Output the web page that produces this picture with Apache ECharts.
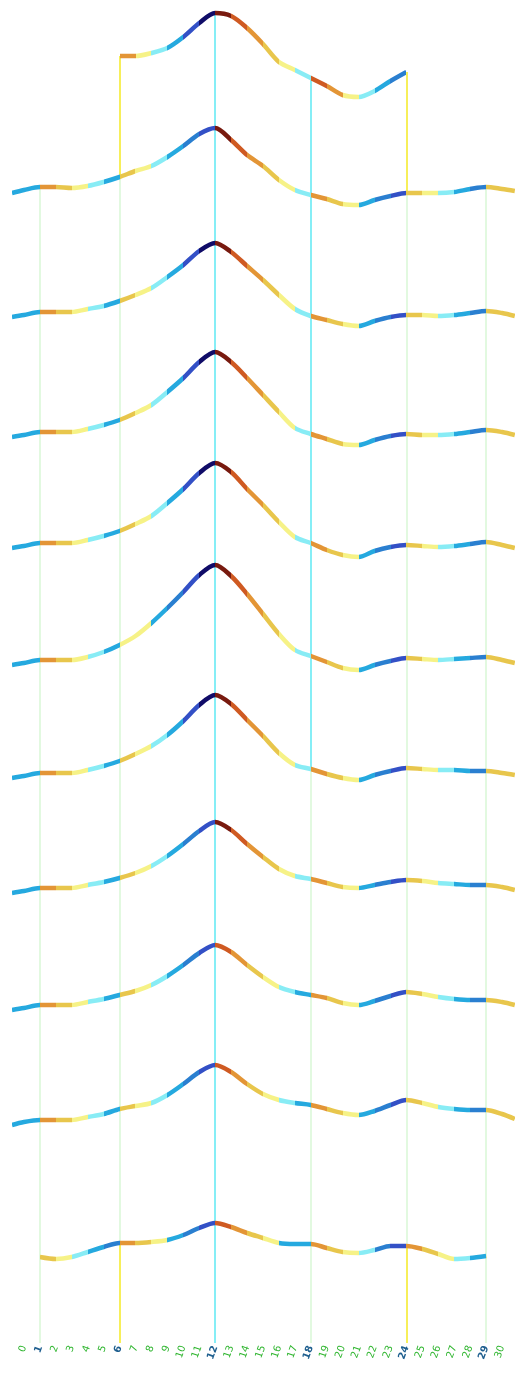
<!DOCTYPE html>
<html>
<head>
<meta charset="utf-8">
<script src="https://cdn.jsdelivr.net/npm/echarts@6/dist/echarts.min.js"></script>
<style>
  html, body { margin: 0; padding: 0; background: #ffffff; }
  #chart { width: 519px; height: 1378px; }
</style>
</head>
<body>
<div id="chart"></div>
<script>
// Sample positions along the x axis (tick units)
const SAMPLE_X = [-0.75, 0, 1, 2, 3, 4, 5, 6, 7, 8, 9, 10, 11, 12, 13, 14, 15,
  16, 17, 18, 19, 20, 21, 22, 23, 24, 25, 26, 27, 28, 29, 30, 30.8];

// Tick labels, one per integer tick 0..30
const TICK_LABELS = ['0', '1', '2', '3', '4', '5', '6', '7', '8', '9', '10',
  '11', '12', '13', '14', '15', '16', '17', '18', '19', '20',
  '21', '22', '23', '24', '25', '26', '27', '28', '29', '30'];

// Vertical offset of each trace (top trace first)
const ROW_BASE = [1280, 1152, 1028, 908, 797, 680, 567, 452, 335, 220, 83];

// Signal of each trace relative to its offset, one value per sample position
const ROW_0 = [null, null, null, null, null, null, null, 4, 4, 7, 12, 23, 37, 47, 44, 32, 16, -2, -10, -18, -26, -35, -37, -31, -21, -12, null, null, null, null, null, null, null];
const ROW_1 = [-5, -2, 1, 1, 0, 2, 6, 11, 17, 22, 31, 42, 54, 60, 48, 33, 22, 8, -2, -7, -11, -16, -17, -12, -8, -5, -5, -5, -4, -1, 1, -1, -3];
const ROW_2 = [-5, -3, 0, 0, 0, 3, 6, 11, 17, 24, 35, 47, 61, 69, 60, 46, 32, 17, 3, -4, -8, -12, -14, -9, -5, -3, -3, -4, -3, -1, 1, -1, -4];
const ROW_3 = [-5, -3, 0, 0, 0, 3, 7, 12, 19, 27, 40, 54, 70, 80, 70, 54, 37, 20, 4, -2, -7, -12, -13, -8, -4, -2, -3, -3, -2, 0, 2, 0, -3];
const ROW_4 = [-5, -3, 0, 0, 0, 3, 7, 12, 19, 27, 40, 54, 70, 80, 71, 54, 38, 21, 6, 0, -7, -12, -14, -8, -4, -2, -3, -4, -3, -1, 1, -2, -5];
const ROW_5 = [-5, -3, 0, 0, 0, 3, 8, 15, 24, 37, 52, 68, 85, 95, 84, 66, 46, 26, 10, 4, -2, -8, -10, -5, -1, 2, 1, 0, 1, 2, 3, 0, -3];
const ROW_6 = [-5, -3, 0, 0, 0, 3, 7, 12, 19, 27, 38, 52, 68, 78, 69, 53, 37, 20, 8, 4, -1, -5, -7, -2, 2, 5, 4, 3, 3, 2, 2, 0, -2];
const ROW_7 = [-5, -3, 0, 0, 0, 3, 6, 10, 15, 22, 32, 44, 57, 66, 58, 44, 31, 19, 12, 9, 5, 1, 0, 3, 6, 8, 7, 5, 4, 3, 3, 1, -2];
const ROW_8 = [-5, -3, 0, 0, 0, 3, 6, 10, 14, 20, 29, 40, 52, 60, 53, 40, 28, 18, 13, 10, 7, 2, 0, 4, 9, 13, 11, 8, 6, 5, 5, 3, 0];
const ROW_9 = [-5, -2, 0, 0, 0, 3, 6, 11, 14, 17, 25, 36, 48, 55, 48, 36, 26, 20, 17, 15, 11, 7, 5, 9, 15, 20, 17, 13, 11, 10, 10, 6, 1];
const ROW_10 = [null, null, 0, -2, 0, 5, 10, 14, 14, 15, 17, 22, 29, 34, 30, 24, 19, 14, 13, 13, 9, 5, 4, 7, 11, 11, 8, 3, -2, -1, 1, null, null];
const ROWS = [ROW_0, ROW_1, ROW_2, ROW_3, ROW_4, ROW_5, ROW_6, ROW_7, ROW_8, ROW_9, ROW_10];

// Colour level of each segment between neighbouring samples ('-' = no segment)
const LEVELS_0 = '-------754310987654875432-------';
const LEVELS_1 = '33765436543219876547653216543266';
const LEVELS_2 = '33765436543109876547653216543266';
const LEVELS_3 = '33765436543109876547653216543266';
const LEVELS_4 = '33765436543109876547653216543266';
const LEVELS_5 = '33765435532109876547653216543266';
const LEVELS_6 = '33765436543109876547653216543266';
const LEVELS_7 = '33765436543219876547653216543266';
const LEVELS_8 = '33765436543218765437653216543266';
const LEVELS_9 = '33765436543218765437653216543266';
const LEVELS_10 = '--65432765321876533765421765437--';
const LEVELS = [LEVELS_0, LEVELS_1, LEVELS_2, LEVELS_3, LEVELS_4, LEVELS_5,
  LEVELS_6, LEVELS_7, LEVELS_8, LEVELS_9, LEVELS_10];

// Colour ramp, low (navy) to high (dark red)
const RAMP = ['#100c68', '#3350c6', '#2a7fd0', '#25a9df', '#88ecf5',
  '#f6f287', '#e8c64c', '#e39536', '#cf5a22', '#781a0f'];

// Drop lines: tick, from trace, to trace (11 = the axis floor), colour
const DROP_TICK = [1, 6, 6, 6, 12, 18, 18, 24, 24, 24, 29];
const DROP_FROM = [1, 0, 1, 10, 0, 0, 6, 0, 1, 10, 1];
const DROP_TO = [11, 1, 10, 11, 11, 6, 11, 1, 10, 11, 11];
const DROP_COLOR = ['#d9f7d6', '#f7ef5a', '#d9f7d6', '#f7ef5a', '#86eef6',
  '#86eef6', '#d9f7d6', '#f7ef5a', '#d9f7d6', '#f7ef5a', '#d9f7d6'];

// Ticks whose labels are emphasised
const KEY_TICKS = [1, 6, 12, 18, 24, 29];

// Vertical extent of the plot
const Y_MIN = -3;
const Y_MAX = 1340;

function valueAt(row, tick) {
  const idx = SAMPLE_X.indexOf(tick);
  return ROW_BASE[row] + ROWS[row][idx];
}

const series = [];
const visualMaps = [];

ROWS.forEach((vals, r) => {
  const pts = [];
  vals.forEach((v, i) => {
    if (v !== null) pts.push([SAMPLE_X[i], ROW_BASE[r] + v]);
  });
  const pieces = [];
  for (let s = 0; s < SAMPLE_X.length - 1; s++) {
    const code = LEVELS[r][s];
    if (code === '-' || code === undefined) continue;
    pieces.push({ gte: SAMPLE_X[s], lt: SAMPLE_X[s + 1], color: RAMP[+code] });
  }
  series.push({
    type: 'line',
    data: pts,
    smooth: 0.3,
    showSymbol: false,
    z: 5,
    lineStyle: { width: 4.5, cap: 'butt' },
    animation: false
  });
  visualMaps.push({
    show: false,
    type: 'piecewise',
    seriesIndex: r,
    dimension: 0,
    pieces: pieces
  });
});

const dropData = DROP_TICK.map((t, i) => {
  const top = valueAt(DROP_FROM[i], t);
  const bottom = DROP_TO[i] === 11 ? Y_MIN : valueAt(DROP_TO[i], t);
  return {
    coords: [[t, top], [t, bottom]],
    lineStyle: { color: DROP_COLOR[i], width: DROP_COLOR[i] === '#d9f7d6' ? 1.5 : 2 }
  };
});

series.push({
  type: 'lines',
  coordinateSystem: 'cartesian2d',
  data: dropData,
  z: 2,
  silent: true,
  animation: false,
  lineStyle: { opacity: 1, curveness: 0 }
});

const chart = echarts.init(document.getElementById('chart'));
chart.setOption({
  animation: false,
  backgroundColor: '#ffffff',
  grid: { left: 8, right: 1, top: 0, bottom: 35 },
  xAxis: {
    type: 'value',
    min: -1,
    max: 31,
    interval: 1,
    splitLine: { show: false },
    axisLine: { show: false },
    axisTick: { show: false },
    axisLabel: {
      rotate: 70,
      margin: 3,
      fontSize: 10,
      fontFamily: 'DejaVu Sans',
      color: '#2fb52f',
      showMinLabel: false,
      showMaxLabel: false,
      formatter: function (v) {
        if (v < 0 || v > 30) return '';
        const txt = TICK_LABELS[v];
        return KEY_TICKS.indexOf(v) >= 0 ? '{k|' + txt + '}' : txt;
      },
      rich: { k: { color: '#1f5f8f', fontSize: 10, fontWeight: 'bold' } }
    }
  },
  yAxis: {
    type: 'value',
    min: Y_MIN,
    max: Y_MAX,
    show: false,
    splitLine: { show: false }
  },
  visualMap: visualMaps,
  series: series
});
</script>
</body>
</html>
